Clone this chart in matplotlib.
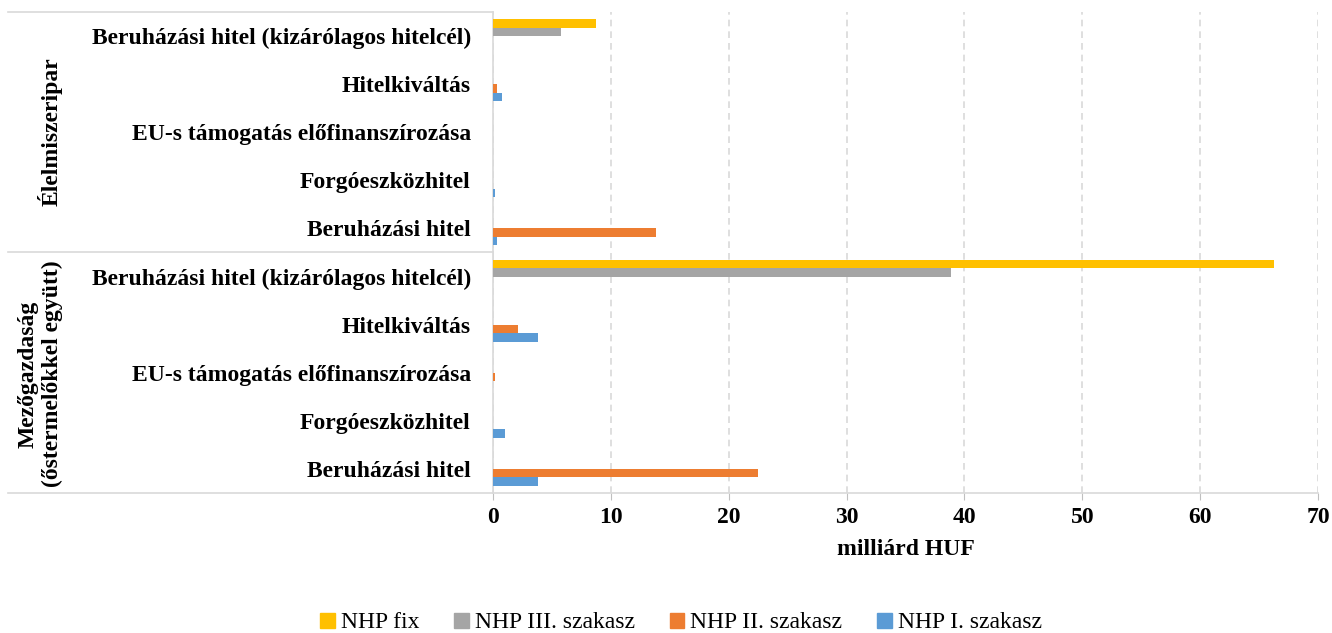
import matplotlib
matplotlib.use("Agg")
import matplotlib.pyplot as plt
from matplotlib.lines import Line2D
from matplotlib.patches import Patch
import numpy as np

plt.rcParams['font.family'] = ['Liberation Serif', 'DejaVu Serif']

# Categories top-to-bottom
categories = [
    "Beruházási hitel (kizárólagos hitelcél)",
    "Hitelkiváltás",
    "EU-s támogatás előfinanszírozása",
    "Forgóeszközhitel",
    "Beruházási hitel",
    "Beruházási hitel (kizárólagos hitelcél)",
    "Hitelkiváltás",
    "EU-s támogatás előfinanszírozása",
    "Forgóeszközhitel",
    "Beruházási hitel",
]
groups = ["Élelmiszeripar", "Mezőgazdaság\n(őstermelőkkel együtt)"]

series_names = ["NHP fix", "NHP III. szakasz", "NHP II. szakasz", "NHP I. szakasz"]
nhp_fix = [8.7, 0, 0, 0, 0, 66.3, 0, 0, 0, 0]
nhp_iii = [5.8, 0, 0, 0, 0, 38.9, 0, 0, 0, 0]
nhp_ii = [0, 0.35, 0, 0, 13.8, 0, 2.1, 0.17, 0, 22.5]
nhp_i = [0, 0.75, 0, 0.2, 0.35, 0, 3.85, 0, 1.0, 3.8]
series = [nhp_fix, nhp_iii, nhp_ii, nhp_i]
colors = ["#FFC000", "#A5A5A5", "#ED7D31", "#5B9BD5"]

FS = 17

W, H = 1332, 633
fig = plt.figure(figsize=(W / 100, H / 100), dpi=100)
ax = fig.add_axes([493 / W, 1 - 493 / H, (1318 - 493) / W, (493 - 12) / H])

n = len(categories)
y = np.arange(n)
bh = 0.177
offsets = [-1.5 * bh, -0.5 * bh, 0.5 * bh, 1.5 * bh]
for vals, off, c, name in zip(series, offsets, colors, series_names):
    ax.barh(y + off, vals, height=bh, color=c, label=name, zorder=3)

ax.set_ylim(n - 0.5, -0.5)
ax.set_xlim(0, 70)
ax.set_xticks(np.arange(0, 71, 10))
ax.set_yticks(y)
ax.set_yticklabels(categories, fontsize=FS, fontweight='bold')
ax.tick_params(axis='y', length=0, pad=16)
ax.tick_params(axis='x', length=5, color='#bfbfbf', labelsize=FS, pad=5)
for lab in ax.get_xticklabels():
    lab.set_fontweight('bold')
ax.grid(axis='x', color='#d9d9d9', linestyle=(0, (4, 3)), linewidth=1.2, zorder=0)
for s in ['top', 'right']:
    ax.spines[s].set_visible(False)
for s in ['left', 'bottom']:
    ax.spines[s].set_color('#d9d9d9')
    ax.spines[s].set_linewidth(1.2)

ax.set_xlabel("milliárd HUF", fontsize=FS, fontweight='bold', labelpad=8)

# group separator lines
for ypix in [12, 252, 493]:
    fig.add_artist(Line2D([8 / W, 493 / W], [1 - ypix / H, 1 - ypix / H],
                          color='#d9d9d9', linewidth=1.2))

fig.text(50 / W, 1 - 132 / H, groups[0], rotation=90, ha='center', va='center',
         fontsize=FS, fontweight='bold')
fig.text(40 / W, 1 - 374 / H, groups[1], rotation=90, ha='center', va='center',
         fontsize=FS, fontweight='bold', multialignment='center', linespacing=1.2)

handles = [Patch(color=c, label=nm) for c, nm in zip(colors, series_names)]
fig.legend(handles=handles, loc='center', bbox_to_anchor=(681 / W, 1 - 623 / H),
           ncol=4, frameon=False, fontsize=FS, handlelength=0.6, handleheight=0.6,
           handletextpad=0.25, columnspacing=1.5)

fig.savefig("out.png", dpi=100)
